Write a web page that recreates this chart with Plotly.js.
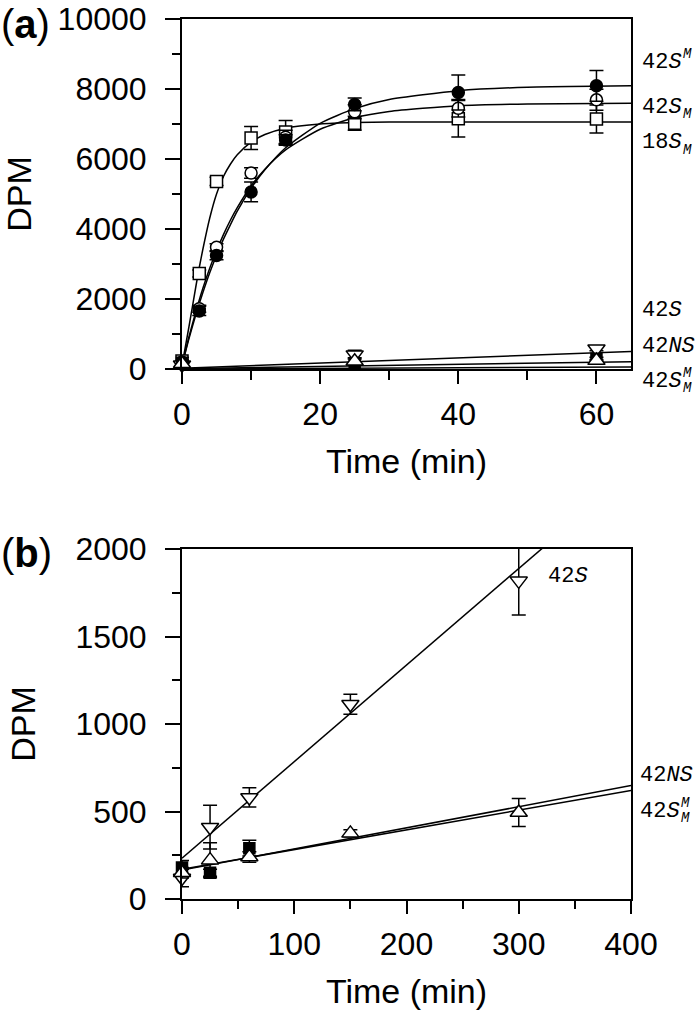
<!DOCTYPE html>
<html><head><meta charset="utf-8">
<script src="https://cdn.plot.ly/plotly-3.0.1.min.js"></script>
<style>html,body{margin:0;padding:0;background:#fff}</style>
</head><body><div id="chart" style="width:700px;height:1016px"></div>
<script>
// ---------- Panel (a) : fast labelling, 0-60 min ----------
const timeA = [0, 2.5, 5, 10, 15, 25, 40, 60];
const dpm18SM = [230, 2730, 5360, 6600, 6770, 7020, 7150, 7140];
const err18SM = [100, 100, 120, 330, 330, 200, 520, 400];
const dpm42SupM = [180, 1660, 3240, 5060, 6540, 7560, 7900, 8090];
const err42SupM = [60, 130, 120, 280, 150, 180, 500, 440];
const dpm42SsubM = [200, 1720, 3480, 5600, 6620, 7350, 7450, 7690];
const err42SsubM = [60, 100, 100, 150, 200, 200, 250, 300];

// fitted curves
const fitTimeA = [0, 1, 2, 2.5, 3, 4, 5, 6, 7, 8, 10, 12, 15, 20, 25, 30, 40, 50, 65];
const fit18SM = [100, 1200, 2350, 2900, 3400, 4300, 5000, 5500, 5850, 6120, 6480, 6700, 6880, 7000, 7040, 7055, 7060, 7060, 7060];
const fit42SupM = [100, 860, 1550, 1870, 2170, 2740, 3250, 3710, 4120, 4510, 5160, 5690, 6320, 7020, 7440, 7700, 7950, 8050, 8090];
const fit42SsubM = [100, 915, 1640, 1970, 2290, 2870, 3380, 3840, 4250, 4610, 5230, 5710, 6260, 6850, 7180, 7360, 7525, 7575, 7595];
const lineTimeA = [0, 65];
const lineA42S = [20, 500];
const lineA42NS = [10, 210];
const lineA42SMM = [0, 60];

// ---------- Slow series (panel b, first three points also in panel a) ----------
const timeB = [0, 25, 60, 150, 300];
const dpm42S = [120, 410, 580, 1113, 1818];
const err42S = [50, 125, 55, 57, 195];
const dpm42NS = [150, 222, 240, 375, 494];
const err42NS = [30, 100, 30, 20, 80];
const timeSq = [0, 25, 60];
const dpm42SMM = [180, 150, 290];
const err42SMM = [40, 20, 45];
const lineTimeB = [0, 400];
const lineB42S = [233, 2440];
const lineB42NS = [165, 648];
const lineB42SMM = [170, 620];

const FONT = 'Liberation Sans, Arial, Helvetica, sans-serif';
const MONO = 'Liberation Mono, Courier New, monospace';
const W = 700, H = 1016;
const TICK = 32, TITLE = 34;

function fitLine(x, y, xa, ya, spline) {
  return {x: x, y: y, xaxis: xa, yaxis: ya, mode: 'lines', hoverinfo: 'skip',
    line: {color: 'black', width: 1.5, shape: spline ? 'spline' : 'linear', smoothing: 0.6}};
}
function pts(x, y, e, xa, ya, symbol, fill, size) {
  return {x: x, y: y, xaxis: xa, yaxis: ya, mode: 'markers', cliponaxis: false,
    marker: {symbol: symbol, size: size, color: fill, line: {color: 'black', width: 1.5}},
    error_y: {type: 'data', array: e, visible: true, color: 'black', thickness: 1.5, width: 7}};
}

const data = [
  fitLine(fitTimeA, fit18SM, 'x', 'y', true),
  fitLine(fitTimeA, fit42SupM, 'x', 'y', true),
  fitLine(fitTimeA, fit42SsubM, 'x', 'y', true),
  fitLine(lineTimeA, lineA42S, 'x', 'y'),
  fitLine(lineTimeA, lineA42NS, 'x', 'y'),
  fitLine(lineTimeA, lineA42SMM, 'x', 'y'),
  pts(timeA, dpm18SM, err18SM, 'x', 'y', 'square', 'white', 12),
  pts(timeA, dpm42SsubM, err42SsubM, 'x', 'y', 'circle', 'white', 12),
  pts(timeA, dpm42SupM, err42SupM, 'x', 'y', 'circle', 'black', 12),
  pts(timeB.slice(0, 3), dpm42S.slice(0, 3), err42S.slice(0, 3), 'x', 'y', 'triangle-down', 'white', 15),
  pts(timeSq, dpm42SMM, err42SMM, 'x', 'y', 'square', 'black', 11),
  pts(timeB.slice(0, 3), dpm42NS.slice(0, 3), err42NS.slice(0, 3), 'x', 'y', 'triangle-up', 'white', 15),

  fitLine(lineTimeB, lineB42S, 'x2', 'y2'),
  fitLine(lineTimeB, lineB42NS, 'x2', 'y2'),
  fitLine(lineTimeB, lineB42SMM, 'x2', 'y2'),
  pts(timeB, dpm42S, err42S, 'x2', 'y2', 'triangle-down', 'white', 15),
  pts(timeSq, dpm42SMM, err42SMM, 'x2', 'y2', 'square', 'black', 11),
  pts(timeB, dpm42NS, err42NS, 'x2', 'y2', 'triangle-up', 'white', 15)
];

function axis(extra) {
  return Object.assign({
    showline: true, linewidth: 2, linecolor: 'black', mirror: true,
    ticks: 'outside', tickwidth: 2, tickcolor: 'black',
    showgrid: false, zeroline: false, automargin: false,
    tickfont: {family: FONT, size: TICK, color: 'black'}
  }, extra);
}
const xDom = [182 / W, 631 / W];
const py = p => 1 - p / H;

const annotations = [];
function txt(x, y, text, size, family, anchor) {
  annotations.push({xref: 'paper', yref: 'paper', x: x / W, y: py(y), text: text, showarrow: false,
    xanchor: anchor || 'left', yanchor: 'middle', font: {family: family, size: size, color: 'black'}});
}
txt(-1, 24, '(<b>a</b>)', 40, FONT);
txt(-1, 553, '(<b>b</b>)', 40, FONT);
function label(x, y, main, sup, sub) {
  txt(x, y, main, 22, MONO);
  const off = main.replace(/<[^>]+>/g, '').length * 13.2 + 1;
  if (sup) txt(x + off, y - 8, '<i>' + sup + '</i>', 14, MONO);
  if (sub) txt(x + off, y + 7, '<i>' + sub + '</i>', 14, MONO);
}
label(640, 62, '42<i>S</i>', 'M', null);
label(640, 107, '42<i>S</i>', null, 'M');
label(640, 143, '18<i>S</i>', null, 'M');
label(640, 310, '42<i>S</i>', null, null);
label(640, 346, '42<i>NS</i>', null, null);
label(640, 381, '42<i>S</i>', 'M', 'M');
label(546, 576, '42<i>S</i>', null, null);
label(638, 775, '42<i>NS</i>', null, null);
label(638, 811, '42<i>S</i>', 'M', 'M');

const layout = {
  width: W, height: H, margin: {l: 0, r: 0, t: 0, b: 0},
  paper_bgcolor: 'white', plot_bgcolor: 'white', showlegend: false,
  font: {family: FONT, color: 'black'},
  xaxis: axis({domain: xDom, anchor: 'y', range: [0, 65], tick0: 0, dtick: 20, ticklen: 13, ticklabelstandoff: 3,
    minor: {dtick: 10, ticks: 'outside', ticklen: 9, tickwidth: 2, tickcolor: 'black', showgrid: false},
    title: {text: 'Time (min)', font: {family: FONT, size: TITLE}, standoff: 18}}),
  yaxis: axis({domain: [py(369), py(19)], anchor: 'x', range: [0, 10000], tick0: 0, dtick: 2000, tickformat: 'd', ticklen: 15, ticklabelstandoff: 12,
    minor: {dtick: 1000, ticks: 'outside', ticklen: 8, tickwidth: 2, tickcolor: 'black', showgrid: false},
    title: {text: 'DPM', font: {family: FONT, size: TITLE}, standoff: 30}}),
  xaxis2: axis({domain: xDom, anchor: 'y2', range: [0, 400], tick0: 0, dtick: 100, ticklen: 13, ticklabelstandoff: 3,
    minor: {dtick: 50, ticks: 'outside', ticklen: 8, tickwidth: 2, tickcolor: 'black', showgrid: false},
    title: {text: 'Time (min)', font: {family: FONT, size: TITLE}, standoff: 18}}),
  yaxis2: axis({domain: [py(899), py(549)], anchor: 'x2', range: [0, 2000], tick0: 0, dtick: 500, tickformat: 'd', ticklen: 15, ticklabelstandoff: 12,
    minor: {dtick: 250, ticks: 'outside', ticklen: 8, tickwidth: 2, tickcolor: 'black', showgrid: false},
    title: {text: 'DPM', font: {family: FONT, size: TITLE}, standoff: 30}}),
  annotations: annotations
};
Plotly.newPlot('chart', data, layout, {displayModeBar: false, staticPlot: true});
</script></body></html>
